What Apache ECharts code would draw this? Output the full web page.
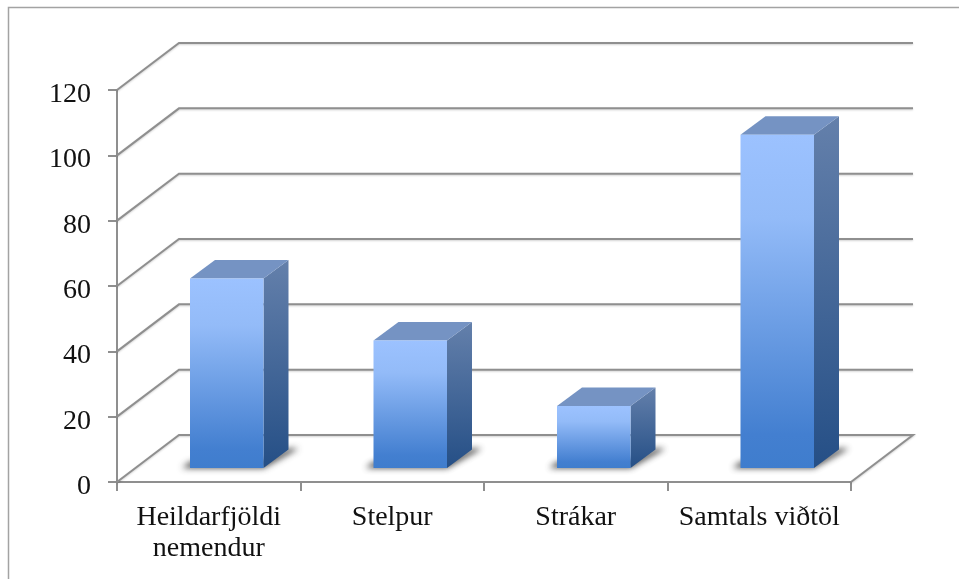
<!DOCTYPE html>
<html>
	<head>
		<meta charset="utf-8">
		<title>Viðtöl</title>
		<script src="https://cdn.jsdelivr.net/npm/echarts@6/dist/echarts.min.js"></script>
		<style>
			html, body { margin: 0; padding: 0; background: #fff; }
		</style>
	</head>
	<body>
		<div id="box" style="width: 959px;height: 579px;"></div>
		<script>
			var categories = ['Heildarfjöldi\nnemendur', 'Stelpur', 'Strákar', 'Samtals viðtöl']
			var values = [58, 39, 19, 102]
			var yTicks = [0, 20, 40, 60, 80, 100, 120]

			var fontName = '"Liberation Serif", serif'
			var lineColor = '#8f8f8f'

			// 3D look: how far the back wall sits from the front plane (px)
			var wallDx = 62
			var wallDy = 47
			// bar placement inside the floor
			var barShiftX = 18
			var barShiftY = 14
			var barDepthX = 25
			var barDepthY = 18.5
			var barWidth = 73.5
			var shadowAway = 2000 // polygon is drawn off screen, only its blur lands on the floor

			function renderWall(params, api) {
				var grid = params.coordSys
				var v = api.value(1)
				var y = api.coord([0, v])[1]
				var left = grid.x
				var right = grid.x + grid.width
				var pts = [[left, y], [left + wallDx, y - wallDy], [right + wallDx, y - wallDy]]
				if (v === 0) {
					pts.push([right, y]) // floor closes on the right side
				}
				return {
					type: 'polyline',
					shape: { points: pts },
					style: {
						fill: null,
						stroke: lineColor,
						lineWidth: 2,
						shadowColor: 'rgba(0,0,0,0.18)',
						shadowBlur: 2,
						shadowOffsetY: 1
					}
				}
			}

			function renderBar(params, api) {
				var top = api.coord([api.value(0), api.value(1)])
				var base = api.coord([api.value(0), 0])
				var x0 = base[0] - barWidth / 2 + barShiftX
				var x1 = x0 + barWidth
				var yB = base[1] - barShiftY
				var yT = top[1] - barShiftY
				var shadowPts = [
					[x0 - 8, yB], [x1, yB],
					[x1 + barDepthX + 10, yB - barDepthY - 1],
					[x1 + barDepthX, yB - barDepthY - 1],
					[x1, yB - 8], [x0, yB - 6]
				].map(function(p) { return [p[0] - shadowAway, p[1]] })
				return {
					type: 'group',
					children: [
						{
							type: 'polygon',
							shape: { points: shadowPts },
							style: {
								fill: '#000',
								shadowColor: 'rgba(40,40,40,0.85)',
								shadowBlur: 6,
								shadowOffsetX: shadowAway
							}
						},
						{
							type: 'polygon',
							shape: {
								points: [
									[x1, yT], [x1 + barDepthX, yT - barDepthY],
									[x1 + barDepthX, yB - barDepthY], [x1, yB]
								]
							},
							style: {
								fill: new echarts.graphic.LinearGradient(0, 0, 0, 1, [
									{ offset: 0, color: '#6480ab' },
									{ offset: 1, color: '#254f86' }
								])
							}
						},
						{
							type: 'polygon',
							shape: {
								points: [
									[x0, yT], [x0 + barDepthX, yT - barDepthY],
									[x1 + barDepthX, yT - barDepthY], [x1, yT]
								]
							},
							style: { fill: '#7593c3' }
						},
						{
							type: 'rect',
							shape: { x: x0, y: yT, width: barWidth, height: yB - yT },
							style: {
								fill: new echarts.graphic.LinearGradient(0, 0, 0, 1, [
									{ offset: 0, color: '#9cc2ff' },
									{ offset: 0.25, color: '#93bbf8' },
									{ offset: 0.9, color: '#437fd0' },
									{ offset: 1, color: '#3f7dcd' }
								])
							}
						}
					]
				}
			}

			var mCharts = echarts.init(document.querySelector('#box'), null, { renderer: 'canvas' })

			var option = {
				animation: false,
				backgroundColor: '#fff',
				grid: { left: 117, right: 108, top: 90, bottom: 97 },
				graphic: [
					{
						type: 'polyline',
						silent: true,
						shape: { points: [[8.5, 579], [8.5, 7.5], [959, 7.5]] },
						style: { fill: null, stroke: '#a3a3a3', lineWidth: 1.5 }
					}
				],
				xAxis: {
					type: 'category',
					data: categories,
					axisLine: { lineStyle: { color: lineColor, width: 2 } },
					axisTick: { show: true, length: 9, lineStyle: { color: lineColor, width: 2 } },
					axisLabel: {
						color: '#111',
						fontFamily: fontName,
						fontSize: 28,
						lineHeight: 31,
						margin: 20,
						interval: 0
					},
					splitLine: { show: false }
				},
				yAxis: {
					type: 'value',
					min: 0,
					max: 120,
					interval: 20,
					axisLine: { show: true, lineStyle: { color: lineColor, width: 2 } },
					axisTick: { show: true, length: 9, lineStyle: { color: lineColor, width: 2 } },
					axisLabel: {
						color: '#111',
						fontFamily: fontName,
						fontSize: 28,
						margin: 26,
						verticalAlign: 'top',
						lineHeight: 9
					},
					splitLine: { show: false }
				},
				series: [
					{
						type: 'custom',
						z: 1,
						silent: true,
						clip: false,
						renderItem: renderWall,
						encode: { x: 0, y: 1 },
						data: yTicks.map(function(t) { return [0, t] })
					},
					{
						type: 'custom',
						z: 3,
						silent: true,
						clip: false,
						renderItem: renderBar,
						encode: { x: 0, y: 1 },
						data: values.map(function(v, i) { return [i, v] })
					}
				]
			}
			mCharts.setOption(option)
		</script>
	</body>
</html>
